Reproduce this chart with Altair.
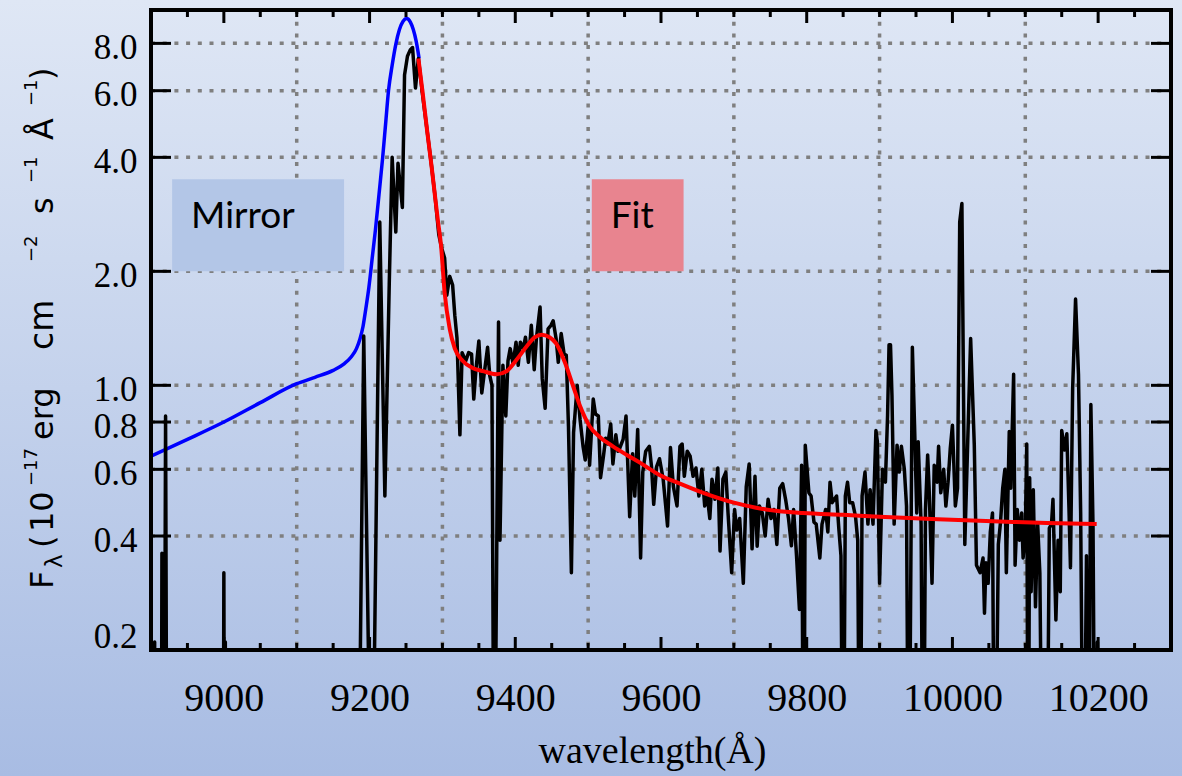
import altair as alt
import pandas as pd

# ---------------- data ----------------
obs_wl = [8901, 8904, 8905, 8906, 8914, 8915, 8916, 8918, 8920, 8922, 8999, 9000, 9001, 9002, 9003, 9184,
          9192, 9203, 9214, 9221, 9227, 9231, 9236, 9239, 9245, 9248, 9252, 9256, 9259, 9263, 9267, 9273,
          9279, 9285, 9290, 9295,
          9299, 9303, 9306, 9310, 9314, 9317, 9320, 9324, 9327, 9332, 9336, 9340, 9343, 9346, 9350, 9354,
          9357, 9362, 9365, 9368, 9371, 9377, 9379, 9383, 9387, 9390, 9393, 9397, 9401, 9404, 9407, 9411,
          9414, 9418, 9422, 9426, 9429, 9434, 9437, 9441, 9445, 9449, 9452, 9456, 9459, 9463, 9467, 9470,
          9473, 9477, 9480, 9485, 9489, 9493, 9496, 9500, 9502, 9507, 9510, 9514, 9517, 9521, 9524, 9527,
          9531, 9534, 9538, 9541,
          9543, 9548, 9552, 9557, 9561, 9564, 9568, 9572, 9575, 9579, 9584, 9587, 9590, 9594, 9598, 9603,
          9609, 9613, 9617, 9622, 9626, 9629, 9632, 9636, 9640, 9644, 9648, 9652, 9656, 9660, 9663, 9667,
          9670, 9674, 9678, 9681, 9685, 9689, 9692, 9697, 9701, 9704, 9708, 9713, 9717, 9721, 9725, 9729,
          9732, 9735, 9739, 9743, 9747, 9751, 9755, 9759, 9763, 9767, 9771, 9775, 9779, 9782, 9786, 9790,
          9793, 9796, 9798, 9803, 9806, 9810, 9813, 9818, 9821, 9826, 9829, 9832, 9835, 9841, 9844, 9847,
          9850, 9853, 9856, 9859, 9863, 9867, 9870, 9873, 9876, 9880, 9884, 9887, 9891, 9895, 9897, 9900,
          9904, 9908, 9911, 9913, 9915, 9917, 9920, 9924, 9927, 9930, 9934, 9937, 9940, 9945, 9948, 9951,
          9953, 9957, 9960, 9963, 9966, 9968, 9972, 9975, 9979, 9981, 9984, 9988, 9991, 9994, 9997, 10000,
          10004, 10007, 10010, 10013, 10017, 10021, 10025, 10030, 10033,
          10038, 10042, 10044, 10046, 10049, 10052, 10055, 10058, 10063, 10066, 10069, 10072, 10074, 10078,
          10080, 10084, 10086, 10089, 10092, 10095, 10097, 10100, 10102, 10104, 10106, 10108, 10111, 10114,
          10117, 10120, 10124, 10129, 10133, 10136, 10138, 10142, 10145, 10148, 10150, 10154, 10157, 10160,
          10162, 10165, 10169, 10173, 10176, 10180, 10184, 10187, 10190, 10193, 10196, 10199, 10201]
obs_flux = [0.05, 0.05, 0.21, 0.05, 0.05, 0.36, 0.05, 0.05, 0.83, 0.05, 0.05, 0.32, 0.05, 0.21, 0.05, 0.05,
            1.35, 0.05, 2.70, 0.51, 1.85, 4.0, 2.54, 3.86, 2.95, 6.6, 7.4, 7.7, 7.8, 6.1, 7.3, 5.8,
            4.7, 3.8, 3.14, 2.5,
            2.3, 2.17, 1.73, 1.94, 1.84, 1.53, 1.33, 0.74, 1.22, 1.16, 1.22, 1.21, 0.92, 1.10, 1.31, 0.955,
            1.06, 1.26, 1.06, 1.0, 0.05, 1.47, 0.39, 1.13, 0.83, 1.16, 1.25, 1.14, 1.30, 1.13, 1.30, 1.25,
            1.34, 1.15, 1.44, 1.10, 1.33, 1.61, 1.04, 0.87, 1.41, 1.44, 1.48, 1.33, 1.15, 1.37, 1.21, 1.20,
            0.78, 0.32, 0.75, 1.0, 0.81, 0.69, 0.635, 0.78, 0.615, 0.92, 0.84, 0.83, 0.57, 0.65, 0.725, 0.70,
            0.79, 0.62, 0.74, 0.67,
            0.68, 0.72, 0.83, 0.45, 0.66, 0.51, 0.765, 0.35, 0.59, 0.67, 0.69, 0.61, 0.485, 0.61, 0.64, 0.565,
            0.425, 0.685, 0.54, 0.48, 0.69, 0.70, 0.575, 0.67, 0.65, 0.575, 0.605, 0.51, 0.60, 0.48, 0.52, 0.445,
            0.565, 0.50, 0.605, 0.365, 0.565, 0.59, 0.46, 0.32, 0.47, 0.415, 0.445, 0.30, 0.54, 0.62, 0.37, 0.575,
            0.376, 0.48, 0.46, 0.40, 0.50, 0.445, 0.47, 0.38, 0.535, 0.55, 0.50, 0.445, 0.377, 0.47, 0.355, 0.256,
            0.615, 0.05, 0.695, 0.52, 0.51, 0.435, 0.43, 0.35, 0.43, 0.47, 0.41, 0.555, 0.49, 0.51, 0.42, 0.355,
            0.05, 0.51, 0.555, 0.49, 0.49, 0.45, 0.39, 0.05, 0.51, 0.59, 0.43, 0.53, 0.43, 0.76, 0.71, 0.30,
            0.60, 0.555, 0.835, 1.28, 1.28, 0.94, 0.43, 0.695, 0.59, 0.69, 0.60, 0.48, 0.05, 1.26, 0.785, 0.46,
            0.71, 0.43, 0.05, 0.47, 0.655, 0.535, 0.30, 0.615, 0.555, 0.69, 0.52, 0.60, 0.48, 0.555, 0.68, 0.785,
            0.48, 0.535, 2.7, 3.02, 0.38, 0.71, 1.33, 0.695, 0.335,
            0.32, 0.35, 0.25, 0.34, 0.30, 0.41, 0.46, 0.05, 0.38, 0.435, 0.535, 0.60, 0.32, 0.755,
            0.535, 1.07, 0.335, 0.47, 0.39, 0.46, 0.35, 0.41, 0.70, 0.05, 0.57, 0.285, 0.53, 0.26,
            0.43, 0.32, 0.05, 0.05, 0.42, 0.43, 0.50, 0.24, 0.39, 0.285, 0.76, 0.675, 0.745, 0.47,
            0.33, 0.98, 1.69, 1.07, 0.46, 0.05, 0.355, 0.05, 0.89, 0.42, 0.05, 0.21, 0.05]

mirror_wl = [8900, 8950, 9000, 9050, 9100, 9125, 9150, 9165, 9175, 9182, 9187, 9191, 9195, 9199, 9204, 9208,
             9213, 9218, 9222, 9226, 9231, 9236, 9241, 9246, 9251, 9256, 9260, 9264, 9268]
mirror_flux = [0.65, 0.72, 0.80, 0.90, 1.01, 1.05, 1.095, 1.14, 1.19, 1.25, 1.33, 1.43, 1.60, 1.81, 2.2, 2.57,
               3.2, 4.0, 4.9, 6.0, 7.0, 7.95, 8.7, 9.15, 9.3, 9.1, 8.7, 8.1, 7.3]

fit_wl = [9267, 9273, 9279, 9285, 9290, 9294, 9298, 9303, 9310, 9317, 9328, 9342, 9356, 9374, 9388,
          9402, 9416, 9427, 9436, 9447, 9456, 9468, 9479, 9489, 9502, 9516, 9534, 9553, 9571, 9598,
          9626, 9658, 9700, 9744, 9795, 9850, 9900, 9980, 10065, 10130, 10198]
fit_flux = [7.3, 5.9, 4.7, 3.8, 3.14, 2.7, 2.35, 1.76, 1.41, 1.25, 1.16, 1.11, 1.09, 1.07, 1.09,
            1.17, 1.27, 1.34, 1.36, 1.34, 1.29, 1.15, 1.0, 0.88, 0.78, 0.73, 0.69, 0.655, 0.625, 0.58,
            0.55, 0.52, 0.49, 0.47, 0.46, 0.455, 0.45, 0.443, 0.437, 0.433, 0.43]

x_label_values = [9000, 9200, 9400, 9600, 9800, 10000, 10200]
x_grid_values = [9100, 9300, 9500, 9700, 9900, 10100]
x_minor_values = [8950, 9050, 9100, 9150, 9250, 9300, 9350, 9450, 9500, 9550, 9650, 9700, 9750,
                  9850, 9900, 9950, 10050, 10100, 10150, 10250]
y_label_values = [0.2, 0.4, 0.6, 0.8, 1.0, 2.0, 4.0, 6.0, 8.0]
y_grid_values = [0.4, 0.6, 0.8, 1.0, 2.0, 4.0, 6.0, 8.0]

box_labels = ["Mirror", "Fit"]
box_wl_start = [8929, 9505]
box_wl_end = [9165, 9631]
box_flux_low = [2.0, 2.0]
box_flux_high = [3.5, 3.5]
box_text_wl = [8955, 9531]
box_text_flux = [2.61, 2.61]
box_colors = ["#b3c6e7", "#e8848f"]

# ---------------- layout ----------------
W, H = 1020, 640
PAD_L, PAD_T = 151, 10
PAD_R, PAD_B = 1182 - PAD_L - W, 776 - PAD_T - H

xs = alt.Scale(domain=[8900, 10300], nice=False, zero=False)
ys = alt.Scale(type="log", domain=[0.2, 9.8], nice=False)

x_axis = alt.Axis(values=x_label_values, format="d", labelFont="Liberation Serif", labelFontSize=40,
                  labelColor="black", domain=False, ticks=False, grid=False, labelPadding=28,
                  labelFlush=False, labelOverlap=False, title="wavelength(Å)", titleFont="Liberation Serif",
                  titleFontSize=38, titleFontWeight="normal", titleColor="black",
                  titleX=501, titleY=112, titleBaseline="alphabetic", zindex=1)
y_axis = alt.Axis(values=y_label_values, format=".1f", labelFont="Liberation Serif", labelFontSize=35,
                  labelColor="black", domain=False, ticks=False, grid=False, labelPadding=14,
                  labelFlush=True, labelOverlap=False, labelOffset=4, title=None, zindex=1)

X = alt.X("wl:Q", scale=xs, axis=x_axis)
Y = alt.Y("flux:Q", scale=ys, axis=y_axis)

one = pd.DataFrame({"wl": [9500], "flux": [1.0]})

obs_df = pd.DataFrame({"wl": obs_wl, "flux": obs_flux})
mirror_df = pd.DataFrame({"wl": mirror_wl, "flux": mirror_flux})
fit_df = pd.DataFrame({"wl": fit_wl, "flux": fit_flux})
xgrid_df = pd.DataFrame({"wl": x_grid_values, "flux": [1.0] * len(x_grid_values)})
ygrid_df = pd.DataFrame({"wl": [9500] * len(y_grid_values), "flux": y_grid_values})
xmaj_df = pd.DataFrame({"wl": x_label_values, "flux": [1.0] * len(x_label_values)})
xmin_df = pd.DataFrame({"wl": x_minor_values, "flux": [1.0] * len(x_minor_values)})
ytick_df = pd.DataFrame({"wl": [9500] * len(y_label_values), "flux": y_label_values})
box_df = pd.DataFrame({"wl": box_wl_start, "wl2": box_wl_end, "flux": box_flux_low,
                       "flux2": box_flux_high, "label": box_labels, "color": box_colors})
boxtext_df = pd.DataFrame({"wl": box_text_wl, "flux": box_text_flux, "label": box_labels})

gradient = alt.LinearGradient(
    gradient="linear",
    stops=[alt.GradientStop(color="#dfe7f5", offset=0),
           alt.GradientStop(color="#c4d2ec", offset=0.5),
           alt.GradientStop(color="#a8bce3", offset=1)],
    x1=0, x2=0, y1=0, y2=1)

bg = alt.Chart(one).mark_rect(fill=gradient).encode(
    x=alt.value(-PAD_L), x2=alt.value(W + PAD_R), y=alt.value(-PAD_T), y2=alt.value(H + PAD_B))

grid_style = dict(color="#7f7f7f", strokeWidth=3.5, strokeDash=[4, 7.7])
vgrid = alt.Chart(xgrid_df).mark_rule(**grid_style).encode(x=X, y=alt.value(0), y2=alt.value(H))
hgrid = alt.Chart(ygrid_df).mark_rule(**grid_style).encode(y=Y, x=alt.value(0), x2=alt.value(W))

boxes = alt.Chart(box_df).mark_rect().encode(
    x=X, x2="wl2:Q", y=Y, y2="flux2:Q",
    color=alt.Color("color:N", scale=None))
box_text = alt.Chart(boxtext_df).mark_text(align="left", baseline="alphabetic", font="Lato",
                                           fontSize=37, color="black").encode(x=X, y=Y, text="label:N")

mirror_line = alt.Chart(mirror_df).mark_line(color="#0000ff", strokeWidth=3.5, clip=True,
                                             interpolate="monotone").encode(x=X, y=Y)
obs_line = alt.Chart(obs_df).mark_line(color="black", strokeWidth=3.5, clip=True,
                                       strokeJoin="round").encode(x=X, y=Y)
fit_line = alt.Chart(fit_df).mark_line(color="#ff0000", strokeWidth=4, clip=True,
                                       interpolate="monotone").encode(x=X, y=Y)

tick_style = dict(color="black", strokeWidth=3)
xmaj_b = alt.Chart(xmaj_df).mark_rule(**tick_style).encode(x=X, y=alt.value(H), y2=alt.value(H - 13))
xmaj_t = alt.Chart(xmaj_df).mark_rule(**tick_style).encode(x=X, y=alt.value(0), y2=alt.value(13))
xmin_b = alt.Chart(xmin_df).mark_rule(**tick_style).encode(x=X, y=alt.value(H), y2=alt.value(H - 7))
xmin_t = alt.Chart(xmin_df).mark_rule(**tick_style).encode(x=X, y=alt.value(0), y2=alt.value(7))
ytick_l = alt.Chart(ytick_df).mark_rule(**tick_style).encode(y=Y, x=alt.value(0), x2=alt.value(20))
ytick_r = alt.Chart(ytick_df).mark_rule(**tick_style).encode(y=Y, x=alt.value(W - 20), x2=alt.value(W))

frame = alt.Chart(one).mark_rect(fillOpacity=0, stroke="black", strokeWidth=4).encode(
    x=alt.value(0), x2=alt.value(W), y=alt.value(0), y2=alt.value(H))


def ytitle_piece(text, xb, ystart, size):
    return alt.Chart(one).mark_text(text=text, angle=270, align="left", baseline="alphabetic",
                                    font="DejaVu Sans", fontSize=size, color="black").encode(
        x=alt.value(xb - PAD_L), y=alt.value(ystart - PAD_T))


title_layers = [
    ytitle_piece("F", 53, 589, 32),
    ytitle_piece("λ", 62, 568, 23),
    ytitle_piece("(", 53, 548, 32),
    ytitle_piece("10", 53, 532, 32),
    ytitle_piece("−17", 37, 486, 18),
    ytitle_piece("erg", 53, 440, 32),
    ytitle_piece("cm", 53, 350, 33),
    ytitle_piece("−2", 37, 262, 18),
    ytitle_piece("s", 53, 214, 32),
    ytitle_piece("−1", 37, 183, 18),
    ytitle_piece("Å", 53, 140, 32),
    ytitle_piece("−1", 37, 106, 18),
    ytitle_piece(")", 53, 80, 32),
]

chart = alt.layer(
    bg, vgrid, hgrid, boxes, box_text, mirror_line, obs_line, fit_line,
    xmaj_b, xmaj_t, xmin_b, xmin_t, ytick_l, ytick_r, frame, *title_layers
).properties(
    width=W, height=H,
    padding={"left": PAD_L, "top": PAD_T, "right": PAD_R, "bottom": PAD_B},
    autosize=alt.AutoSizeParams(type="none"),
    background="#c4d2ec",
).configure_view(strokeWidth=0)

chart.save("out.html", embed_options={"renderer": "svg", "actions": False})
